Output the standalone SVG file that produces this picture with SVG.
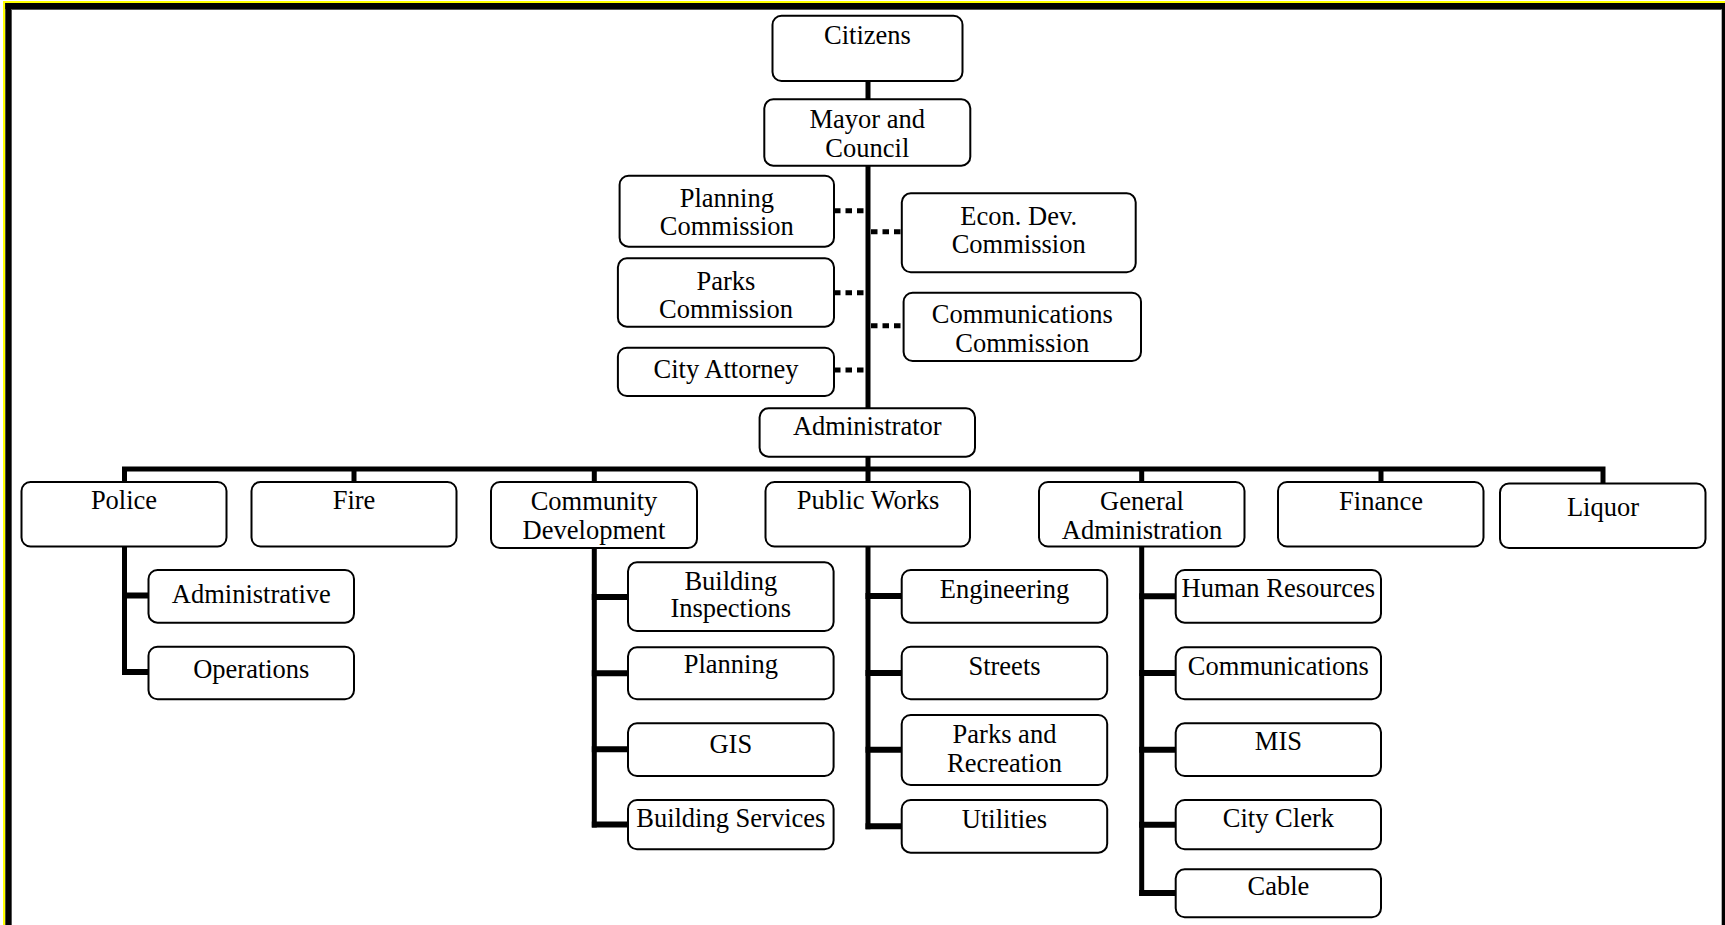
<svg xmlns="http://www.w3.org/2000/svg" width="1725" height="925" viewBox="0 0 1725 925">
<style>
.box{fill:#fff;stroke:#000;stroke-width:2}
.t{font-family:"Liberation Serif","Times New Roman",serif;font-size:26.5px;fill:#000;text-anchor:middle}
.ln{fill:none;stroke:#000;stroke-width:5;stroke-linejoin:miter}
.br{fill:none;stroke:#000;stroke-width:6}
.dot{fill:none;stroke:#000;stroke-width:5;stroke-dasharray:6.5 5}
</style>
<rect x="0" y="0" width="1725" height="925" fill="#fff"/>
<g id="frame">
<rect x="3" y="1" width="1722" height="2" fill="#ffff00"/>
<rect x="3" y="1" width="2.3" height="924" fill="#ffff00"/>
<rect x="5.3" y="3" width="1719.7" height="6" fill="#000"/>
<rect x="5.3" y="3" width="5.7" height="922" fill="#000"/>
<rect x="1721.7" y="3" width="3.3" height="922" fill="#000"/>
<rect x="11" y="9" width="1" height="916" fill="#555"/>
<rect x="11" y="9" width="1710.7" height="1" fill="#555"/>
</g>
<g id="connectors">
<path class="ln" d="M868 81 V99.5 M868 165.7 V408.3 M868 456.7 V482"/>
<path class="ln" d="M124.5 482 V469 H1603 V483"/>
<path class="ln" d="M354 469 V482 M594.3 469 V482 M1141.7 469 V482 M1381 469 V482"/>
<path class="dot" d="M834 210.7 H866 M834 292.7 H866 M834 370 H866"/>
<path class="dot" d="M871 231.7 H902 M871 325.7 H904"/>
<path class="ln" d="M124.5 546 V675"/>
<path class="br" d="M122 595.5 H148.5 M122 672 H148.5"/>
<path class="ln" d="M594.3 548 V827.5"/>
<path class="br" d="M591.8 597 H628 M591.8 673.3 H628 M591.8 749.3 H628 M591.8 824.5 H628"/>
<path class="ln" d="M868 546 V829.3"/>
<path class="br" d="M865.5 596 H901.7 M865.5 673 H901.7 M865.5 749.7 H901.7 M865.5 826.3 H901.7"/>
<path class="ln" d="M1141.7 546 V896"/>
<path class="br" d="M1139.2 596.3 H1175.7 M1139.2 673 H1175.7 M1139.2 749.7 H1175.7 M1139.2 824.7 H1175.7 M1139.2 893 H1175.7"/>
</g>
<g id="citizens"><rect class="box" x="772.5" y="15.7" width="190" height="65.3" rx="9"/><text class="t" x="867.5" y="43.5">Citizens</text></g>
<g id="mayor"><rect class="box" x="764.3" y="99.3" width="206" height="66.4" rx="9"/><text class="t" x="867.3" y="127.7">Mayor and</text><text class="t" x="867.3" y="156.7">Council</text></g>
<g id="planning-commission"><rect class="box" x="619.6" y="175.7" width="214.4" height="71" rx="9"/><text class="t" x="726.8" y="206.7">Planning</text><text class="t" x="726.8" y="235">Commission</text></g>
<g id="econ-dev"><rect class="box" x="901.8" y="193.3" width="233.9" height="79" rx="9"/><text class="t" x="1018.7" y="225">Econ. Dev.</text><text class="t" x="1018.7" y="253.3">Commission</text></g>
<g id="parks-commission"><rect class="box" x="617.9" y="258.3" width="216.1" height="68.4" rx="9"/><text class="t" x="726" y="290">Parks</text><text class="t" x="726" y="318.3">Commission</text></g>
<g id="communications-commission"><rect class="box" x="903.6" y="292.7" width="237.4" height="68.3" rx="9"/><text class="t" x="1022.3" y="323.3">Communications</text><text class="t" x="1022.3" y="351.7">Commission</text></g>
<g id="city-attorney"><rect class="box" x="617.9" y="347.7" width="216.1" height="48.3" rx="9"/><text class="t" x="726" y="378.3">City Attorney</text></g>
<g id="administrator"><rect class="box" x="759.6" y="408.3" width="215.4" height="48.4" rx="9"/><text class="t" x="867.3" y="435">Administrator</text></g>
<g id="police"><rect class="box" x="21.5" y="482" width="205" height="64.5" rx="9"/><text class="t" x="124" y="508.5">Police</text></g>
<g id="fire"><rect class="box" x="251.5" y="482" width="205" height="64.5" rx="9"/><text class="t" x="354" y="508.5">Fire</text></g>
<g id="community-development"><rect class="box" x="491" y="482" width="206" height="66" rx="9"/><text class="t" x="594" y="510">Community</text><text class="t" x="594" y="539">Development</text></g>
<g id="public-works"><rect class="box" x="765.5" y="482" width="204.5" height="64.5" rx="9"/><text class="t" x="868" y="508.5">Public Works</text></g>
<g id="general-administration"><rect class="box" x="1039" y="482" width="205.5" height="64.5" rx="9"/><text class="t" x="1142" y="510">General</text><text class="t" x="1142" y="539">Administration</text></g>
<g id="finance"><rect class="box" x="1278" y="482" width="205.5" height="64.5" rx="9"/><text class="t" x="1381" y="509.5">Finance</text></g>
<g id="liquor"><rect class="box" x="1500" y="483.5" width="205.5" height="64.5" rx="9"/><text class="t" x="1603" y="516">Liquor</text></g>
<g id="administrative"><rect class="box" x="148.5" y="570" width="205.5" height="52.7" rx="9"/><text class="t" x="251.3" y="602.7">Administrative</text></g>
<g id="operations"><rect class="box" x="148.5" y="646.7" width="205.5" height="52.6" rx="9"/><text class="t" x="251.3" y="678.3">Operations</text></g>
<g id="building-inspections"><rect class="box" x="628" y="562.3" width="205.6" height="68.7" rx="9"/><text class="t" x="730.8" y="590">Building</text><text class="t" x="730.8" y="616.7">Inspections</text></g>
<g id="planning"><rect class="box" x="628" y="647.3" width="205.6" height="52" rx="9"/><text class="t" x="730.8" y="673.3">Planning</text></g>
<g id="gis"><rect class="box" x="628" y="723.3" width="205.6" height="52.7" rx="9"/><text class="t" x="730.8" y="753.3">GIS</text></g>
<g id="building-services"><rect class="box" x="628" y="800" width="205.6" height="49.3" rx="9"/><text class="t" x="730.8" y="826.7">Building Services</text></g>
<g id="engineering"><rect class="box" x="901.7" y="570" width="205.5" height="52.7" rx="9"/><text class="t" x="1004.5" y="598.3">Engineering</text></g>
<g id="streets"><rect class="box" x="901.7" y="646.7" width="205.5" height="52.6" rx="9"/><text class="t" x="1004.5" y="675">Streets</text></g>
<g id="parks-recreation"><rect class="box" x="901.7" y="715" width="205.5" height="70" rx="9"/><text class="t" x="1004.5" y="743.3">Parks and</text><text class="t" x="1004.5" y="771.7">Recreation</text></g>
<g id="utilities"><rect class="box" x="901.7" y="800" width="205.5" height="52.7" rx="9"/><text class="t" x="1004.5" y="828.3">Utilities</text></g>
<g id="human-resources"><rect class="box" x="1175.7" y="570" width="205.3" height="52.7" rx="9"/><text class="t" x="1278.4" y="596.7">Human Resources</text></g>
<g id="communications"><rect class="box" x="1175.7" y="647.3" width="205.3" height="52" rx="9"/><text class="t" x="1278.4" y="675">Communications</text></g>
<g id="mis"><rect class="box" x="1175.7" y="723.3" width="205.3" height="52.7" rx="9"/><text class="t" x="1278.4" y="750">MIS</text></g>
<g id="city-clerk"><rect class="box" x="1175.7" y="800" width="205.3" height="49.3" rx="9"/><text class="t" x="1278.4" y="826.7">City Clerk</text></g>
<g id="cable"><rect class="box" x="1175.7" y="869.3" width="205.3" height="48" rx="9"/><text class="t" x="1278.4" y="895">Cable</text></g>
</svg>
